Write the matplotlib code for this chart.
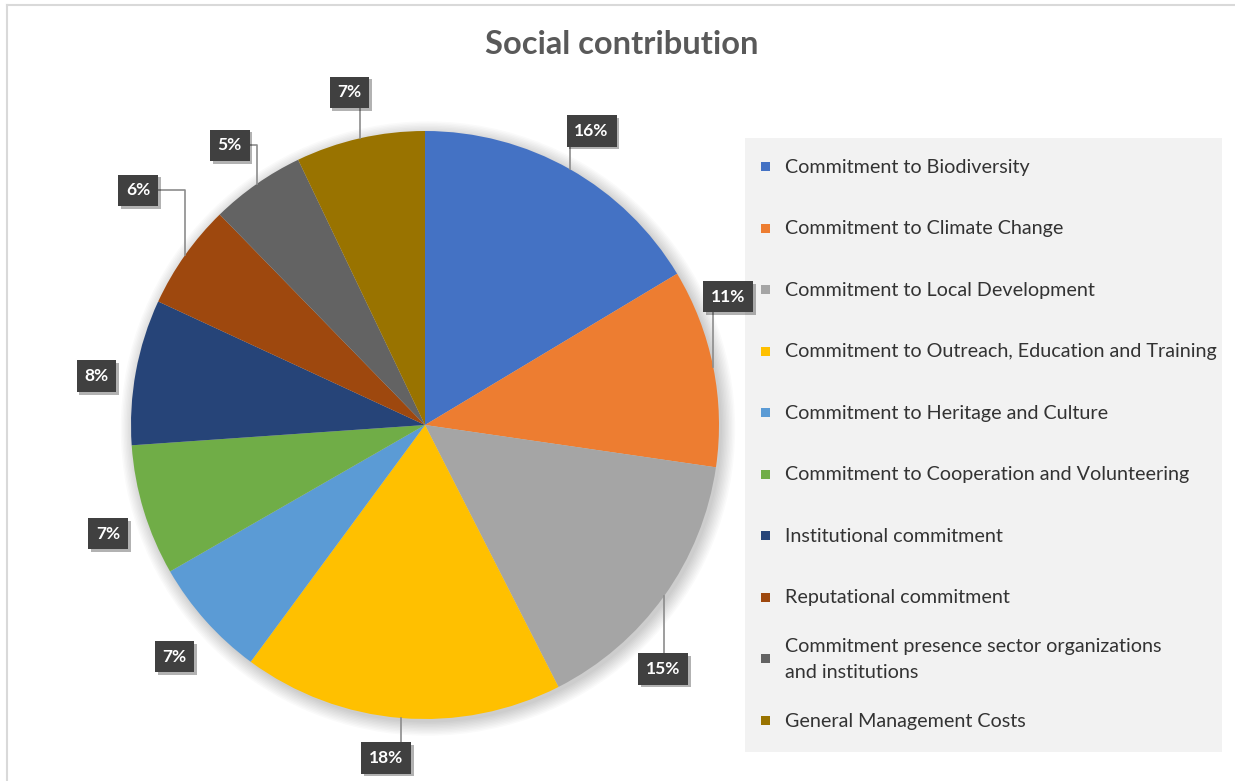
import numpy as np
import matplotlib.pyplot as plt
import matplotlib.patheffects as pe
from matplotlib.patches import Rectangle

plt.rcParams['font.family'] = ['Lato', 'DejaVu Sans']

categories = [
    "Commitment to Biodiversity",
    "Commitment to Climate Change",
    "Commitment to Local Development",
    "Commitment to Outreach, Education and Training",
    "Commitment to Heritage and Culture",
    "Commitment to Cooperation and Volunteering",
    "Institutional commitment",
    "Reputational commitment",
    "Commitment presence sector organizations\nand institutions",
    "General Management Costs",
]
shares = [16.4, 10.9, 15.2, 17.6, 6.6, 7.2, 8.0, 5.8, 5.2, 7.1]
colors = ["#4472C4", "#ED7D31", "#A5A5A5", "#FFC000", "#5B9BD5",
          "#70AD47", "#264478", "#9E480E", "#636363", "#997300"]

# label placement (Excel moved a few of them by hand)
label_r = [1.15, 1.12, 1.16, 1.14, 1.16, 1.14, 1.13, 1.26, 1.16, 1.16]
label_turn = [0, 11.6, -10, -2, 1, 2, 2, -4, 0, 0]
has_leader = [True, True, True, True, False, False, False, True, True, True]

W, H = 1235, 781
fig = plt.figure(figsize=(W / 100, H / 100), dpi=100)


def fx(px):
    return px / W


def fy(py):
    return 1 - py / H


# frame lines of the chart area
fig.add_artist(plt.Line2D([fx(7), 1], [fy(5), fy(5)], color="#d9d9d9", lw=1.5))
fig.add_artist(plt.Line2D([fx(7), fx(7)], [fy(5), 0], color="#d9d9d9", lw=1.5))

fig.text(fx(622), fy(45), "Social contribution", ha="center", va="center",
         fontsize=23.5, fontweight="bold", color="#595959")

# pie
R = 294
cx, cy = 425, 425
ax = fig.add_axes([fx(cx - R), fy(cy + R), 2 * R / W, 2 * R / H])
ax.set_xlim(-1, 1)
ax.set_ylim(-1, 1)
ax.axis("off")

# soft shadow under the pie
for k in range(10):
    ax.add_patch(plt.Circle((0.01, -0.012), 1.0 + k * 0.005, color="k",
                            alpha=0.018, lw=0, zorder=0, clip_on=False))

wedges, _ = ax.pie(shares, colors=colors, startangle=90, counterclock=False,
                   radius=1, wedgeprops=dict(lw=0, clip_on=False))
ax.set_xlim(-1, 1)
ax.set_ylim(-1, 1)

for i, w in enumerate(wedges):
    mid = np.deg2rad((w.theta1 + w.theta2) / 2)
    ex, ey = np.cos(mid), np.sin(mid)
    ang = mid + np.deg2rad(label_turn[i])
    lx, ly = label_r[i] * np.cos(ang), label_r[i] * np.sin(ang)
    if has_leader[i]:
        ax.plot([ex, ex, lx], [ey, ly, ly], color="#8c8c8c", lw=1.2,
                zorder=3, clip_on=False)
    t = ax.text(lx, ly, "%.0f%%" % shares[i], ha="center", va="center",
                color="white", fontsize=12.5, fontweight="bold", zorder=5,
                bbox=dict(boxstyle="square,pad=0.45", fc="#404040", ec="none"))
    t.get_bbox_patch().set_path_effects(
        [pe.withSimplePatchShadow(offset=(2, -2), shadow_rgbFace="k", alpha=0.3)])

# legend box
fig.add_artist(Rectangle((fx(745), fy(752)), fx(1222) - fx(745), fy(138) - fy(752),
                         transform=fig.transFigure, fc="#f2f2f2", ec="none", zorder=0))
ys = np.linspace(167, 721, len(categories))
for i, name in enumerate(categories):
    fig.add_artist(Rectangle((fx(761), fy(ys[i] + 4)), 9 / W, 9 / H,
                             transform=fig.transFigure, fc=colors[i], ec="none"))
    fig.text(fx(785), fy(ys[i]), name, ha="left", va="center", fontsize=14.2,
             color="#333333", linespacing=1.62)

fig.savefig("out.png", dpi=100)
